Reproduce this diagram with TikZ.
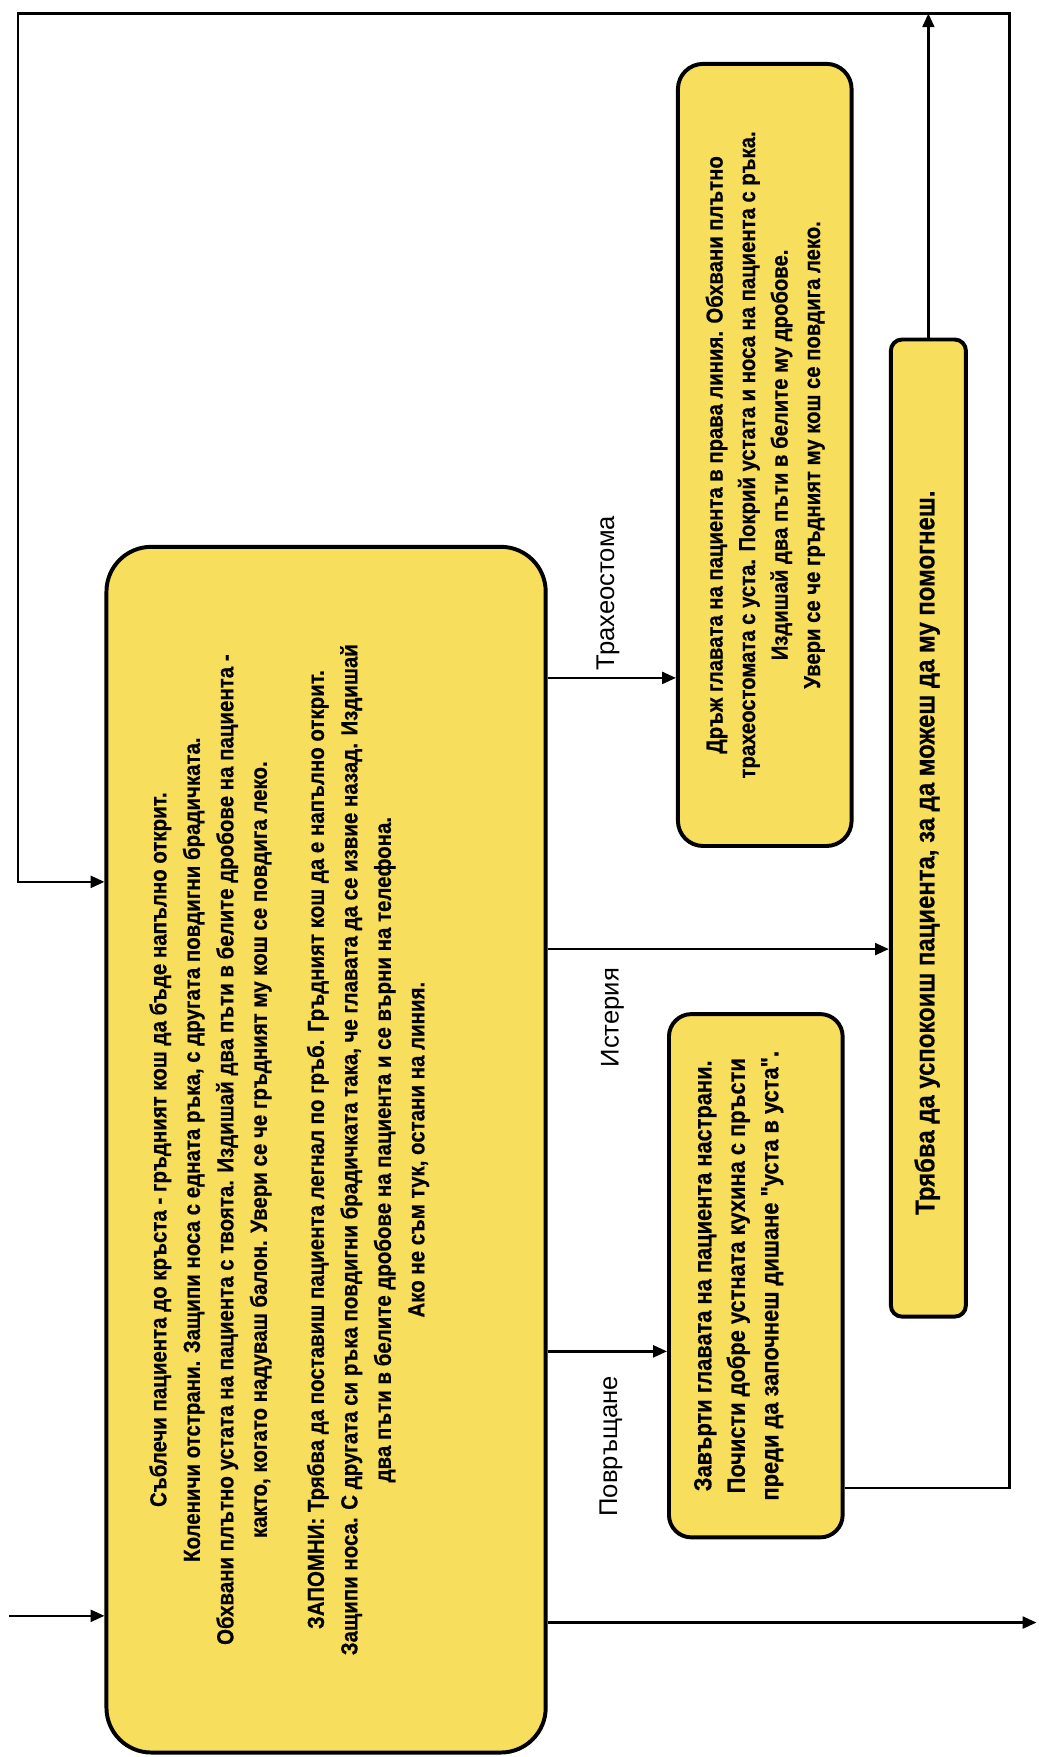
\documentclass[tikz,border=0pt]{standalone}
\usepackage{fontspec}
\setmainfont{Liberation Sans}
\newfontfamily\boxfont{Liberation Sans}[FakeStretch=0.88, FakeBold=0.6]
\usepackage{tikz}
\usetikzlibrary{arrows.meta, positioning}
\definecolor{boxyellow}{RGB}{247,222,92}
\newcommand{\sidetext}[2]{\rotatebox{90}{#1\begin{tabular}{@{}c@{}}#2\end{tabular}}}

\begin{document}
\begin{tikzpicture}[->, >={Triangle[length=7pt,width=6pt]}, line width=1.3pt, node distance=7.8cm,
	stepbox/.style={draw, line width=2pt, fill=boxyellow, inner sep=0pt, font=\boxfont\bfseries},
	lbl/.style={rotate=90, font=\fontsize{13}{15}\selectfont, inner ysep=1pt}]
	
	\useasboundingbox (0,0) rectangle (18.54,-31.36);
	
	% Boxes
	\node[stepbox, minimum width=7.84cm, minimum height=21.52cm, rounded corners=0.8cm] (main) at (5.82,-20.52) {\sidetext{\fontsize{11.8}{17}\selectfont}{%
		Съблечи пациента до кръста - гръдният кош да бъде напълно открит.\\
		Коленичи отстрани. Защипи носа с едната ръка, с другата повдигни брадичката.\\
		Обхвани плътно устата на пациента с твоята. Издишай два пъти в белите дробове на пациента -\\
		както, когато надуваш балон. Увери се че гръдният му кош се повдига леко.\\[12pt]
		ЗАПОМНИ: Трябва да поставиш пациента легнал по гръб. Гръдният кош да е напълно открит.\\
		Защипи носа. С другата си ръка повдигни брадичката така, че главата да се извие назад. Издишай\\
		два пъти в белите дробове на пациента и се върни на телефона.\\
		Ако не съм тук, остани на линия.\\[38pt]}};
	\node[stepbox, right of=main, node distance=7.83cm, yshift=12.40cm, minimum width=3.1cm, minimum height=13.96cm, rounded corners=0.45cm] (tracheo) {\sidetext{\fontsize{11.7}{16.5}\selectfont}{%
		Дръж главата на пациента в права линия. Обхвани плътно\\
		трахеостомата с уста. Покрий устата и носа на пациента с ръка.\\
		Издишай два пъти в белите му дробове.\\
		Увери се че гръдният му кош се повдига леко.}};
	\node[stepbox, right of=main, node distance=10.75cm, yshift=5.74cm, minimum width=1.34cm, minimum height=17.44cm, rounded corners=0.2cm] (calm) {\sidetext{\fontsize{13.8}{15}\selectfont}{%
		Трябва да успокоиш пациента, за да можеш да му помогнеш.\hspace*{25pt}}};
	\node[stepbox, right of=main, node distance=7.67cm, yshift=-2.25cm, minimum width=3.1cm, minimum height=9.34cm, rounded corners=0.4cm] (vomit) {\sidetext{\fontsize{12.6}{17}\selectfont}{%
		Завърти главата на пациента настрани.\\
		Почисти добре устната кухина с пръсти\\
		преди да започнеш дишане "уста в уста".\\[18pt]}};
	
	% Levels
	\coordinate (trachLvl) at (0,-12.10);
	\coordinate (hystLvl) at (0,-16.94);
	\coordinate (vomLvl) at (0,-24.12);
	\coordinate (backLvl) at (0,-26.56);
	\coordinate (loopLvl) at (0,-15.74);
	\coordinate (topL) at (0.32,-0.24);
	\coordinate (topR) at (18.02,-0.24);
	\coordinate (inStart) at (0.16,-28.84);
	\coordinate (outEnd) at (18.5,-28.96);
	
	% Edges
	\path (main.east |- trachLvl) edge node[lbl, pos=0.47, anchor=west] {Трахеостома} (tracheo.west |- trachLvl);
	\path (main.east |- hystLvl) edge node[lbl, pos=0.19, anchor=east, inner xsep=9pt] {Истерия} (calm.west |- hystLvl);
	\path (main.east |- vomLvl) edge node[lbl, pos=0.53, anchor=east, inner xsep=12pt] {Повръщане} (vomit.west |- vomLvl);
	\draw (inStart) -- (main.west |- inStart);
	\draw (main.east |- outEnd) -- (outEnd);
	\draw (calm.north) -- (calm.north |- topR);
	\draw (vomit.east |- backLvl) -- (backLvl -| topR) -- (topR) -- (topL) -- (topL |- loopLvl) -- (main.west |- loopLvl);
	
\end{tikzpicture}
\end{document}
